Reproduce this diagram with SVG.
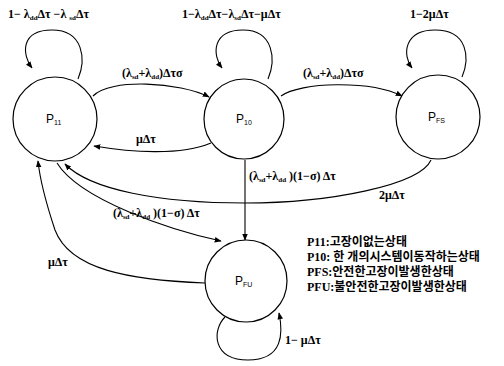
<svg xmlns="http://www.w3.org/2000/svg" width="504" height="366" viewBox="0 0 504 366">
<defs>
<marker id="ah" viewBox="0 0 10 10" refX="9" refY="5" markerWidth="7" markerHeight="7" orient="auto" markerUnits="userSpaceOnUse">
<path d="M0,1 L10,5 L0,9 z" fill="#000"/>
</marker>
<style>
.node{fill:#fff;stroke:#000;stroke-width:1.2}
.edge{fill:none;stroke:#000;stroke-width:1.1;marker-end:url(#ah)}
.lbl{font-family:"Liberation Serif",serif;font-weight:bold;font-size:12px;fill:#000}
.sub{font-size:7px}
.nl{font-family:"Liberation Sans",Arial,sans-serif;font-size:12px;fill:#000}
.ns{font-size:7px}
.kr{font-family:"Liberation Serif","Noto Sans CJK KR",serif;font-weight:bold;font-size:12px;fill:#000}
</style>
</defs>
<rect width="504" height="366" fill="#fff"/>
<g id="connectors">
<path class="edge" d="M78,79 C86,60 84,30 52,30 C20,30 22,55 32,68"/>
<path class="edge" d="M268,79 C276,60 274,30 243,30 C212,30 212,55 222,68"/>
<path class="edge" d="M462,77 C470,58 468,30 435,30 C404,30 402,55 412,68"/>
<path class="edge" d="M225,317 C212,330 212,360 248,360 C284,360 283,332 279,313"/>
<path class="edge" d="M93,96 C110,78 180,82 209,97"/>
<path class="edge" d="M211,143 C180,156 130,152 94,146"/>
<path class="edge" d="M281,96 C300,82 370,80 402,96"/>
<path class="edge" d="M431,160 C420,185 330,203 245,203 C160,203 90,190 65,164"/>
<path class="edge" d="M245,160 L245,240"/>
<path class="edge" d="M57,163 C80,200 170,230 221,241"/>
<path class="edge" d="M205,283 C130,280 70,270 55,230 C45,200 40,180 38,161"/>
</g>
<g id="P11">
<circle class="node" cx="55" cy="119" r="42"/>
<text class="nl" x="46" y="123">P<tspan class="ns" dy="2">11</tspan></text>
</g>
<g id="P10">
<circle class="node" cx="244" cy="119" r="40"/>
<text class="nl" x="236" y="123">P<tspan class="ns" dy="2">10</tspan></text>
</g>
<g id="PFS">
<circle class="node" cx="438" cy="117" r="42"/>
<text class="nl" x="428" y="121">P<tspan class="ns" dy="2">FS</tspan></text>
</g>
<g id="PFU">
<circle class="node" cx="246" cy="281" r="41"/>
<text class="nl" x="235" y="285">P<tspan class="ns" dy="2">FU</tspan></text>
</g>
<g id="labels">
<text class="lbl" x="8" y="18">1− λ<tspan class="sub" dy="2">dd</tspan><tspan dy="-2">Δτ −λ </tspan><tspan class="sub" dy="2">sd</tspan><tspan dy="-2">Δτ</tspan></text>
<text class="lbl" x="182" y="18">1−λ<tspan class="sub" dy="2">dd</tspan><tspan dy="-2">Δτ−λ</tspan><tspan class="sub" dy="2">sd</tspan><tspan dy="-2">Δτ−μΔτ</tspan></text>
<text class="lbl" x="410" y="18">1−2μΔτ</text>
<text class="lbl" x="122" y="77">(λ<tspan class="sub" dy="2">sd</tspan><tspan dy="-2">+λ</tspan><tspan class="sub" dy="2">dd</tspan><tspan dy="-2">)Δτσ</tspan></text>
<text class="lbl" x="136" y="143">μΔτ</text>
<text class="lbl" x="303" y="77">(λ<tspan class="sub" dy="2">sd</tspan><tspan dy="-2">+λ</tspan><tspan class="sub" dy="2">dd</tspan><tspan dy="-2">)Δτσ</tspan></text>
<text class="lbl" x="249" y="180">(λ<tspan class="sub" dy="2">sd</tspan><tspan dy="-2">+λ</tspan><tspan class="sub" dy="2">dd</tspan><tspan dy="-2"> )(1−σ) Δτ</tspan></text>
<text class="lbl" x="379" y="199">2μΔτ</text>
<text class="lbl" x="113" y="217">(λ<tspan class="sub" dy="2">sd</tspan><tspan dy="-2">+λ</tspan><tspan class="sub" dy="2">dd</tspan><tspan dy="-2"> )(1−σ) Δτ</tspan></text>
<text class="lbl" x="48" y="266">μΔτ</text>
<text class="lbl" x="285" y="344">1− μΔτ</text>
</g>
<g id="legend">
<text class="kr" x="307" y="246">P11:고장이없는상태</text>
<text class="kr" x="307" y="261">P10: 한 개의시스템이동작하는상태</text>
<text class="kr" x="307" y="276">PFS:안전한고장이발생한상태</text>
<text class="kr" x="307" y="291">PFU:불안전한고장이발생한상태</text>
</g>
</svg>
